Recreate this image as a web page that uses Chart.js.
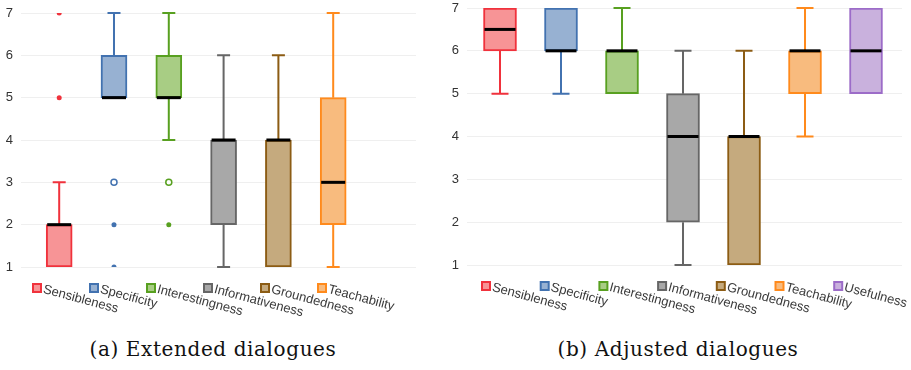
<!DOCTYPE html>
<html>
<head>
<meta charset="utf-8">
<script src="https://cdn.jsdelivr.net/npm/chart.js@4/dist/chart.umd.min.js"></script>
<style>
  body { margin: 0; background: #fff; width: 911px; height: 370px; position: relative; overflow: hidden; }
  canvas { position: absolute; top: 0; }
  .caption { position: absolute; top: 338px; font: 20px "DejaVu Serif", serif; letter-spacing: 0.6px; line-height: 22px; color: #111; white-space: nowrap; transform: translateX(-50%); }
</style>
</head>
<body>
<canvas id="extChart" width="445" height="322" style="left:0"></canvas>
<canvas id="adjChart" width="466" height="322" style="left:445px"></canvas>
<div class="caption" style="left:213px">(a) Extended dialogues</div>
<div class="caption" style="left:678px">(b) Adjusted dialogues</div>
<script>
// (a) extended dialogues
const extCategories = ["Sensibleness", "Specificity", "Interestingness", "Informativeness", "Groundedness", "Teachability"];
const extLow    = [1, 5, 4, 1, 1, 1];
const extQ1     = [1, 5, 5, 2, 1, 2];
const extMedian = [2, 5, 5, 4, 4, 3];
const extQ3     = [2, 6, 6, 4, 4, 5];
const extHigh   = [3, 7, 7, 6, 6, 7];
const extOutliers = [[5, 7], [2, 1], [2], [], [], []];
const extHollow   = [[], [3], [3], [], [], []];

// (b) adjusted dialogues
const adjCategories = ["Sensibleness", "Specificity", "Interestingness", "Informativeness", "Groundedness", "Teachability", "Usefulness"];
const adjLow    = [5, 5, 5, 1, 1, 4, 5];
const adjQ1     = [6, 6, 5, 2, 1, 5, 5];
const adjMedian = [6.5, 6, 6, 4, 4, 6, 6];
const adjQ3     = [7, 7, 6, 5, 4, 6, 7];
const adjHigh   = [7, 7, 7, 6, 6, 7, 7];
const adjOutliers = [[], [], [], [], [], [], []];
const adjHollow   = [[], [], [], [], [], [], []];

const yTicks = [1, 2, 3, 4, 5, 6, 7];

const lineColors = ["#f0323c", "#4272b0", "#58a020", "#666666", "#8c5c14", "#ff8a1c", "#9c6cc8"];
const fillColors = ["#f79496", "#97b1d2", "#a8cd84", "#a8a8a8", "#c5aa7e", "#f8bb7e", "#c9b1dd"];

function boxPlugin(low, q1, med, q3, high, labels, cfg)
{
  return {
    id: "boxes",
    afterDatasetsDraw(chart)
    {
      const ctx = chart.ctx;
      const x = chart.scales.x;
      const y = chart.scales.y;
      ctx.save();
      for (let i = 0; i < labels.length; i++)
      {
        const cx = x.getPixelForValue(i);
        ctx.strokeStyle = lineColors[i];
        ctx.lineWidth = 2;
        ctx.beginPath();
        if (high[i] > q3[i])
        {
          ctx.moveTo(cx, y.getPixelForValue(q3[i]));
          ctx.lineTo(cx, y.getPixelForValue(high[i]));
          ctx.moveTo(cx - cfg.cap / 2, y.getPixelForValue(high[i]));
          ctx.lineTo(cx + cfg.cap / 2, y.getPixelForValue(high[i]));
        }
        if (low[i] < q1[i])
        {
          ctx.moveTo(cx, y.getPixelForValue(q1[i]));
          ctx.lineTo(cx, y.getPixelForValue(low[i]));
          ctx.moveTo(cx - cfg.cap / 2, y.getPixelForValue(low[i]));
          ctx.lineTo(cx + cfg.cap / 2, y.getPixelForValue(low[i]));
        }
        ctx.stroke();

        ctx.strokeStyle = "#000";
        ctx.lineWidth = 3;
        ctx.beginPath();
        ctx.moveTo(cx - cfg.box / 2 + 1, y.getPixelForValue(med[i]));
        ctx.lineTo(cx + cfg.box / 2 - 1, y.getPixelForValue(med[i]));
        ctx.stroke();
      }
      ctx.restore();
    },
    afterDraw(chart)
    {
      // legend under the plot, labels slanted
      const ctx = chart.ctx;
      ctx.save();
      for (let i = 0; i < labels.length; i++)
      {
        const sx = cfg.legendX + i * cfg.legendStep;
        const sy = cfg.legendY;
        ctx.fillStyle = fillColors[i];
        ctx.fillRect(sx - 4, sy - 4, 8, 8);
        ctx.strokeStyle = lineColors[i];
        ctx.lineWidth = 2;
        ctx.strokeRect(sx - 4, sy - 4, 8, 8);

        ctx.translate(sx + 8, sy - 5);
        ctx.rotate(15 * Math.PI / 180);
        ctx.fillStyle = "#3a3a3a";
        ctx.font = "13px 'Liberation Sans', Arial, sans-serif";
        ctx.textBaseline = "top";
        ctx.fillText(labels[i], 0, 0);
        ctx.setTransform(1, 0, 0, 1, 0, 0);
      }
      ctx.restore();
    }
  };
}

function createChart(id, labels, low, q1, med, q3, high, outliers, hollow, cfg)
{
  const filled = [];
  const filledColors = [];
  const open = [];
  const openColors = [];
  labels.forEach((l, i) =>
  {
    outliers[i].forEach(v => { filled.push({x: i, y: v}); filledColors.push(lineColors[i]); });
    hollow[i].forEach(v => { open.push({x: i, y: v}); openColors.push(lineColors[i]); });
  });

  return new Chart(document.getElementById(id), {
    type: "bar",
    data: {
      datasets: [{
        type: "bar",
        data: labels.map((l, i) => ({x: i, y: [q1[i], q3[i]]})),
        backgroundColor: fillColors.slice(0, labels.length),
        borderColor: lineColors.slice(0, labels.length),
        borderWidth: 2,
        borderSkipped: false,
        barThickness: cfg.box,
        grouped: false,
      }, {
        type: "scatter",
        data: filled,
        pointRadius: 2.5,
        pointBorderWidth: 0,
        pointBackgroundColor: filledColors,
      }, {
        type: "scatter",
        data: open,
        pointRadius: 3,
        pointBorderWidth: 1.5,
        pointBackgroundColor: "#fff",
        pointBorderColor: openColors,
      }],
    },
    options: {
      responsive: false,
      animation: false,
      devicePixelRatio: 1,
      layout: {padding: cfg.padding},
      scales: {
        x: {type: "linear", display: false, offset: false, min: cfg.xMin, max: cfg.xMax},
        y: {
          min: yTicks[0],
          max: yTicks[yTicks.length - 1],
          afterFit: s => { s.width = cfg.axisWidth; s.paddingTop = 0; s.paddingBottom = 0; },
          afterBuildTicks: s => { s.ticks = yTicks.map(v => ({value: v})); },
          ticks: {padding: 8, color: "#333", font: {family: "'Liberation Sans', Arial, sans-serif", size: 13}},
          grid: {color: "#efefef", drawTicks: false},
          border: {display: false},
        },
      },
      plugins: {
        legend: {display: false},
        tooltip: {enabled: false},
      },
    },
    plugins: [boxPlugin(low, q1, med, q3, high, labels, cfg)],
  });
}

createChart("extChart", extCategories, extLow, extQ1, extMedian, extQ3, extHigh, extOutliers, extHollow, {
  box: 26, cap: 13, axisWidth: 21,
  padding: {top: 13, right: 29, bottom: 55, left: 0},
  xMin: -0.697, xMax: 6.511,
  legendX: 37, legendStep: 57, legendY: 288,
});

createChart("adjChart", adjCategories, adjLow, adjQ1, adjMedian, adjQ3, adjHigh, adjOutliers, adjHollow, {
  box: 33, cap: 17, axisWidth: 22,
  padding: {top: 8, right: 9, bottom: 57, left: 0},
  xMin: -0.541, xMax: 6.59,
  legendX: 41, legendStep: 58.7, legendY: 286,
});
</script>
</body>
</html>
